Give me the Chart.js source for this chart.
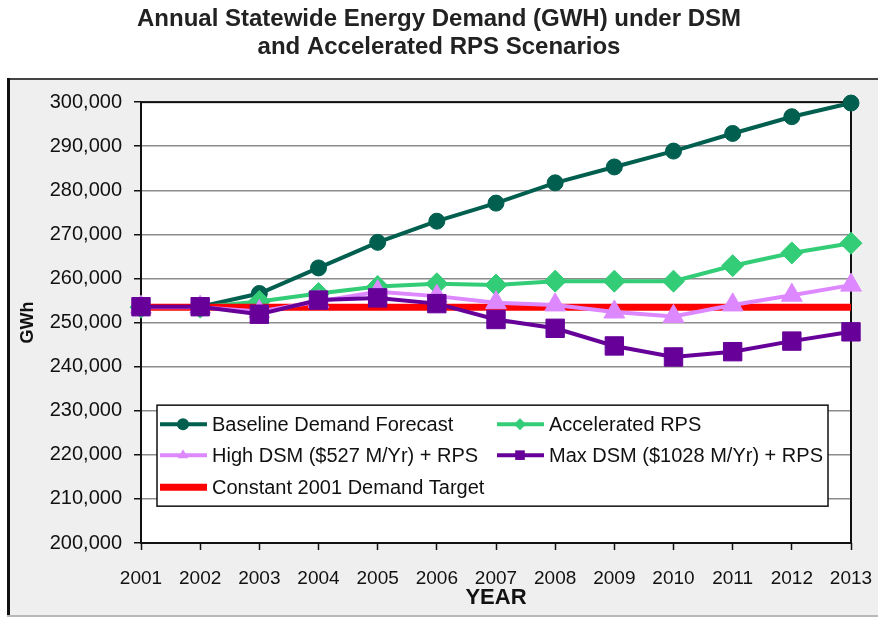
<!DOCTYPE html>
<html>
<head>
<meta charset="utf-8">
<title>Annual Statewide Energy Demand</title>
<script src="https://cdn.jsdelivr.net/npm/chart.js@4/dist/chart.umd.min.js"></script>
<style>
  html, body { margin: 0; padding: 0; background: #fff; }
  #wrap { position: relative; width: 878px; height: 617px; }
</style>
</head>
<body>
<div id="wrap"><canvas id="chart"></canvas></div>
<script>
// --- data (GWh) ---

const years = ['2001', '2002', '2003', '2004', '2005', '2006', '2007',
  '2008', '2009', '2010', '2011', '2012', '2013'];

const baseline = [253500, 253600, 256600, 262400, 268200, 273000, 277100,
  281700, 285300, 288900, 292900, 296700, 299800];
const acceleratedRps = [253500, 253500, 254800, 256600, 258200, 258800, 258500,
  259400, 259400, 259400, 262900, 265800, 268000];
const highDsm = [253500, 253500, 252500, 254800, 257000, 256000, 254500,
  254000, 252400, 251400, 254000, 256200, 258500];
const maxDsm = [253600, 253600, 251900, 255100, 255600, 254300, 250700,
  248700, 244700, 242200, 243400, 245800, 247900];
const target2001 = [253500, 253500, 253500, 253500, 253500, 253500, 253500,
  253500, 253500, 253500, 253500, 253500, 253500];

const titleLines = ['Annual Statewide Energy Demand (GWH) under DSM',
  'and Accelerated RPS Scenarios'];

const FONT = '"Liberation Sans", Arial, sans-serif';
Chart.defaults.font.family = FONT;
Chart.defaults.color = '#111';

// --- helpers ---

function series(label, data, color, style, radius, width, order) {
  return {
    label, data, order,
    borderColor: color, backgroundColor: color,
    borderWidth: width, pointStyle: style,
    pointRadius: radius, pointHoverRadius: radius,
    pointBorderWidth: 1, pointBorderColor: color, pointBackgroundColor: color,
    tension: 0, fill: false, clip: false
  };
}

function marker(ctx, style, x, y, r) {
  ctx.beginPath();
  if (style === 'circle') ctx.arc(x, y, r, 0, Math.PI * 2);
  else if (style === 'rectRot') {
    ctx.moveTo(x, y - r); ctx.lineTo(x + r, y); ctx.lineTo(x, y + r); ctx.lineTo(x - r, y);
  } else if (style === 'triangle') {
    ctx.moveTo(x, y - r); ctx.lineTo(x + r * 0.87, y + r * 0.5); ctx.lineTo(x - r * 0.87, y + r * 0.5);
  } else if (style === 'rect') ctx.rect(x - r * 0.8, y - r * 0.8, r * 1.6, r * 1.6);
  ctx.closePath();
  ctx.fill();
}

// grey panel behind the plot, white plot area and its frame
const panel = {
  id: 'panel',
  beforeDraw(chart) {
    const ctx = chart.ctx, a = chart.chartArea;
    ctx.save();
    ctx.fillStyle = '#efefef';
    ctx.fillRect(7, 79, chart.width - 7, 537);
    ctx.fillStyle = '#444';
    ctx.fillRect(7, 78, chart.width - 7, 2);
    ctx.fillStyle = '#111';
    ctx.fillRect(7, 78, 3, 539);
    ctx.fillStyle = '#b8b8b8';
    ctx.fillRect(7, 615, chart.width - 7, 2);
    ctx.fillStyle = '#fff';
    ctx.fillRect(a.left, a.top, a.right - a.left, a.bottom - a.top);
    ctx.restore();
  },
  beforeDatasetsDraw(chart) {
    const ctx = chart.ctx, a = chart.chartArea;
    ctx.save();
    ctx.strokeStyle = '#111';
    ctx.lineWidth = 2;
    ctx.strokeRect(a.left, a.top, a.right - a.left, a.bottom - a.top);
    ctx.restore();
  }
};

// legend box inside the plot, two columns
const legendBox = {
  id: 'legendBox',
  afterDatasetsDraw(chart) {
    const ctx = chart.ctx, a = chart.chartArea;
    const left = a.left + 16, top = a.top + 303;
    const w = a.right - 23 - left, h = 101;
    ctx.save();
    ctx.fillStyle = '#fff';
    ctx.fillRect(left, top, w, h);
    ctx.strokeStyle = '#111';
    ctx.lineWidth = 1.5;
    ctx.strokeRect(left, top, w, h);
    const cols = [left + 3, left + 340];
    const rows = [top + 19, top + 50, top + 82];
    chart.data.datasets.forEach((ds, i) => {
      const x = cols[i % 2], y = rows[Math.floor(i / 2)];
      ctx.strokeStyle = ds.borderColor;
      ctx.lineWidth = ds.borderWidth;
      ctx.beginPath();
      ctx.moveTo(x, y);
      ctx.lineTo(x + 47, y);
      ctx.stroke();
      if (ds.pointRadius) {
        ctx.fillStyle = ds.borderColor;
        marker(ctx, ds.pointStyle, x + 23, y, 6);
      }
      ctx.fillStyle = '#111';
      ctx.font = '20px ' + FONT;
      ctx.textBaseline = 'middle';
      ctx.textAlign = 'left';
      ctx.fillText(ds.label, x + 52, y + 1);
    });
    ctx.restore();
  }
};

new Chart(document.getElementById('chart'), {
  type: 'line',
  data: {
    labels: years,
    datasets: [
      series('Baseline Demand Forecast', baseline, '#005f4f', 'circle', 8, 4, 4),
      series('Accelerated RPS', acceleratedRps, '#33cc77', 'rectRot', 11, 4, 3),
      series('High DSM ($527 M/Yr) + RPS', highDsm, '#dd88ff', 'triangle', 12, 4, 1),
      series('Max DSM ($1028 M/Yr) + RPS', maxDsm, '#660099', 'rect', 13, 4, 0),
      series('Constant 2001 Demand Target', target2001, '#ff0000', 'circle', 0, 7, 2)
    ]
  },
  options: {
    responsive: true,
    maintainAspectRatio: false,
    animation: false,
    layout: { padding: 0 },
    plugins: {
      legend: { display: false },
      tooltip: { enabled: false },
      title: {
        display: true,
        text: titleLines,
        color: '#222',
        font: { size: 24, weight: 'bold', lineHeight: 1.17 },
        padding: { top: 5, bottom: 41 }
      }
    },
    scales: {
      x: {
        offset: false,
        afterFit: s => { s.height = 74; s.paddingLeft = 0; s.paddingRight = 27; },
        grid: { drawOnChartArea: false, drawTicks: true, tickLength: 7, tickColor: '#111', tickWidth: 1.5 },
        border: { display: false },
        ticks: { color: '#111', font: { size: 19 }, padding: 17, maxRotation: 0, autoSkip: false },
        title: {
          display: true, text: 'YEAR', color: '#111',
          font: { size: 22, weight: 'bold', lineHeight: 1.2 },
          padding: { top: 0, bottom: 6 }
        }
      },
      y: {
        min: 200000, max: 300000,
        afterFit: s => { s.width = 141; },
        grid: { color: '#8c8c8c', lineWidth: 1.5, tickLength: 7, tickColor: '#111', tickWidth: 1.5 },
        border: { display: false },
        ticks: {
          stepSize: 10000, color: '#111', font: { size: 20 }, padding: 12,
          callback: v => v.toLocaleString('en-US')
        },
        title: {
          display: true, text: 'GWh', color: '#111',
          font: { size: 18, weight: 'bold', lineHeight: 1.2 },
          padding: { top: 17, bottom: 0 }
        }
      }
    }
  },
  plugins: [panel, legendBox]
});
</script>
</body>
</html>
